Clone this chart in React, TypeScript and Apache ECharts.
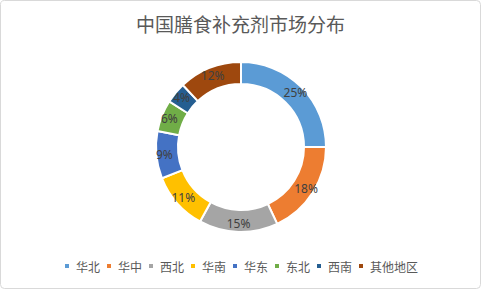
import React, { useEffect, useRef } from "react";
import * as echarts from "echarts";

const title = "中国膳食补充剂市场分布";
const regions = ["华北", "华中", "西北", "华南", "华东", "东北", "西南", "其他地区"];
const shares = [25, 18, 15, 11, 9, 6, 4, 12];
const colors = ["#5B9BD5", "#ED7D31", "#A5A5A5", "#FFC000", "#4472C4", "#70AD47", "#255E91", "#9E480E"];

export default function App() {
  const ref = useRef<HTMLDivElement>(null);
  useEffect(() => {
    if (!ref.current) return;
    const chart = echarts.init(ref.current, undefined, { renderer: "svg" });
    chart.setOption({
      animation: false,
      backgroundColor: "#ffffff",
      color: colors,
      title: {
        text: title,
        left: "center",
        top: 9,
        textStyle: {
          fontFamily: "Noto Sans CJK SC",
          fontSize: 19,
          fontWeight: "normal",
          color: "#595959",
        },
      },
      legend: {
        data: regions,
        bottom: 12,
        left: "center",
        icon: "rect",
        itemWidth: 6,
        itemHeight: 6,
        itemGap: 5,
        textStyle: {
          fontFamily: "Noto Sans CJK SC",
          fontSize: 12,
          color: "#595959",
          padding: [0, 0, 0, 1],
        },
      },
      graphic: [
        {
          type: "rect",
          shape: { x: 0.5, y: 0.5, width: 480, height: 288, r: 4 },
          style: { fill: "none", stroke: "#d9d9d9", lineWidth: 1 },
          silent: true,
        },
      ],
      series: [
        {
          type: "pie",
          center: [241, 147],
          radius: [63, 85],
          startAngle: 90,
          clockwise: true,
          avoidLabelOverlap: false,
          itemStyle: { borderColor: "#ffffff", borderWidth: 2 },
          label: {
            show: true,
            position: "inside",
            formatter: "{c}%",
            fontFamily: "Noto Sans",
            fontSize: 12,
            color: "#404040",
          },
          labelLine: { show: false },
          emphasis: { disabled: true },
          data: regions.map((r, i) => ({ name: r, value: shares[i] })),
        },
      ],
    });
    return () => chart.dispose();
  }, []);
  return (
    <div
      ref={ref}
      style={{ position: "fixed", left: 0, top: 0, width: 481, height: 289 }}
    />
  );
}
